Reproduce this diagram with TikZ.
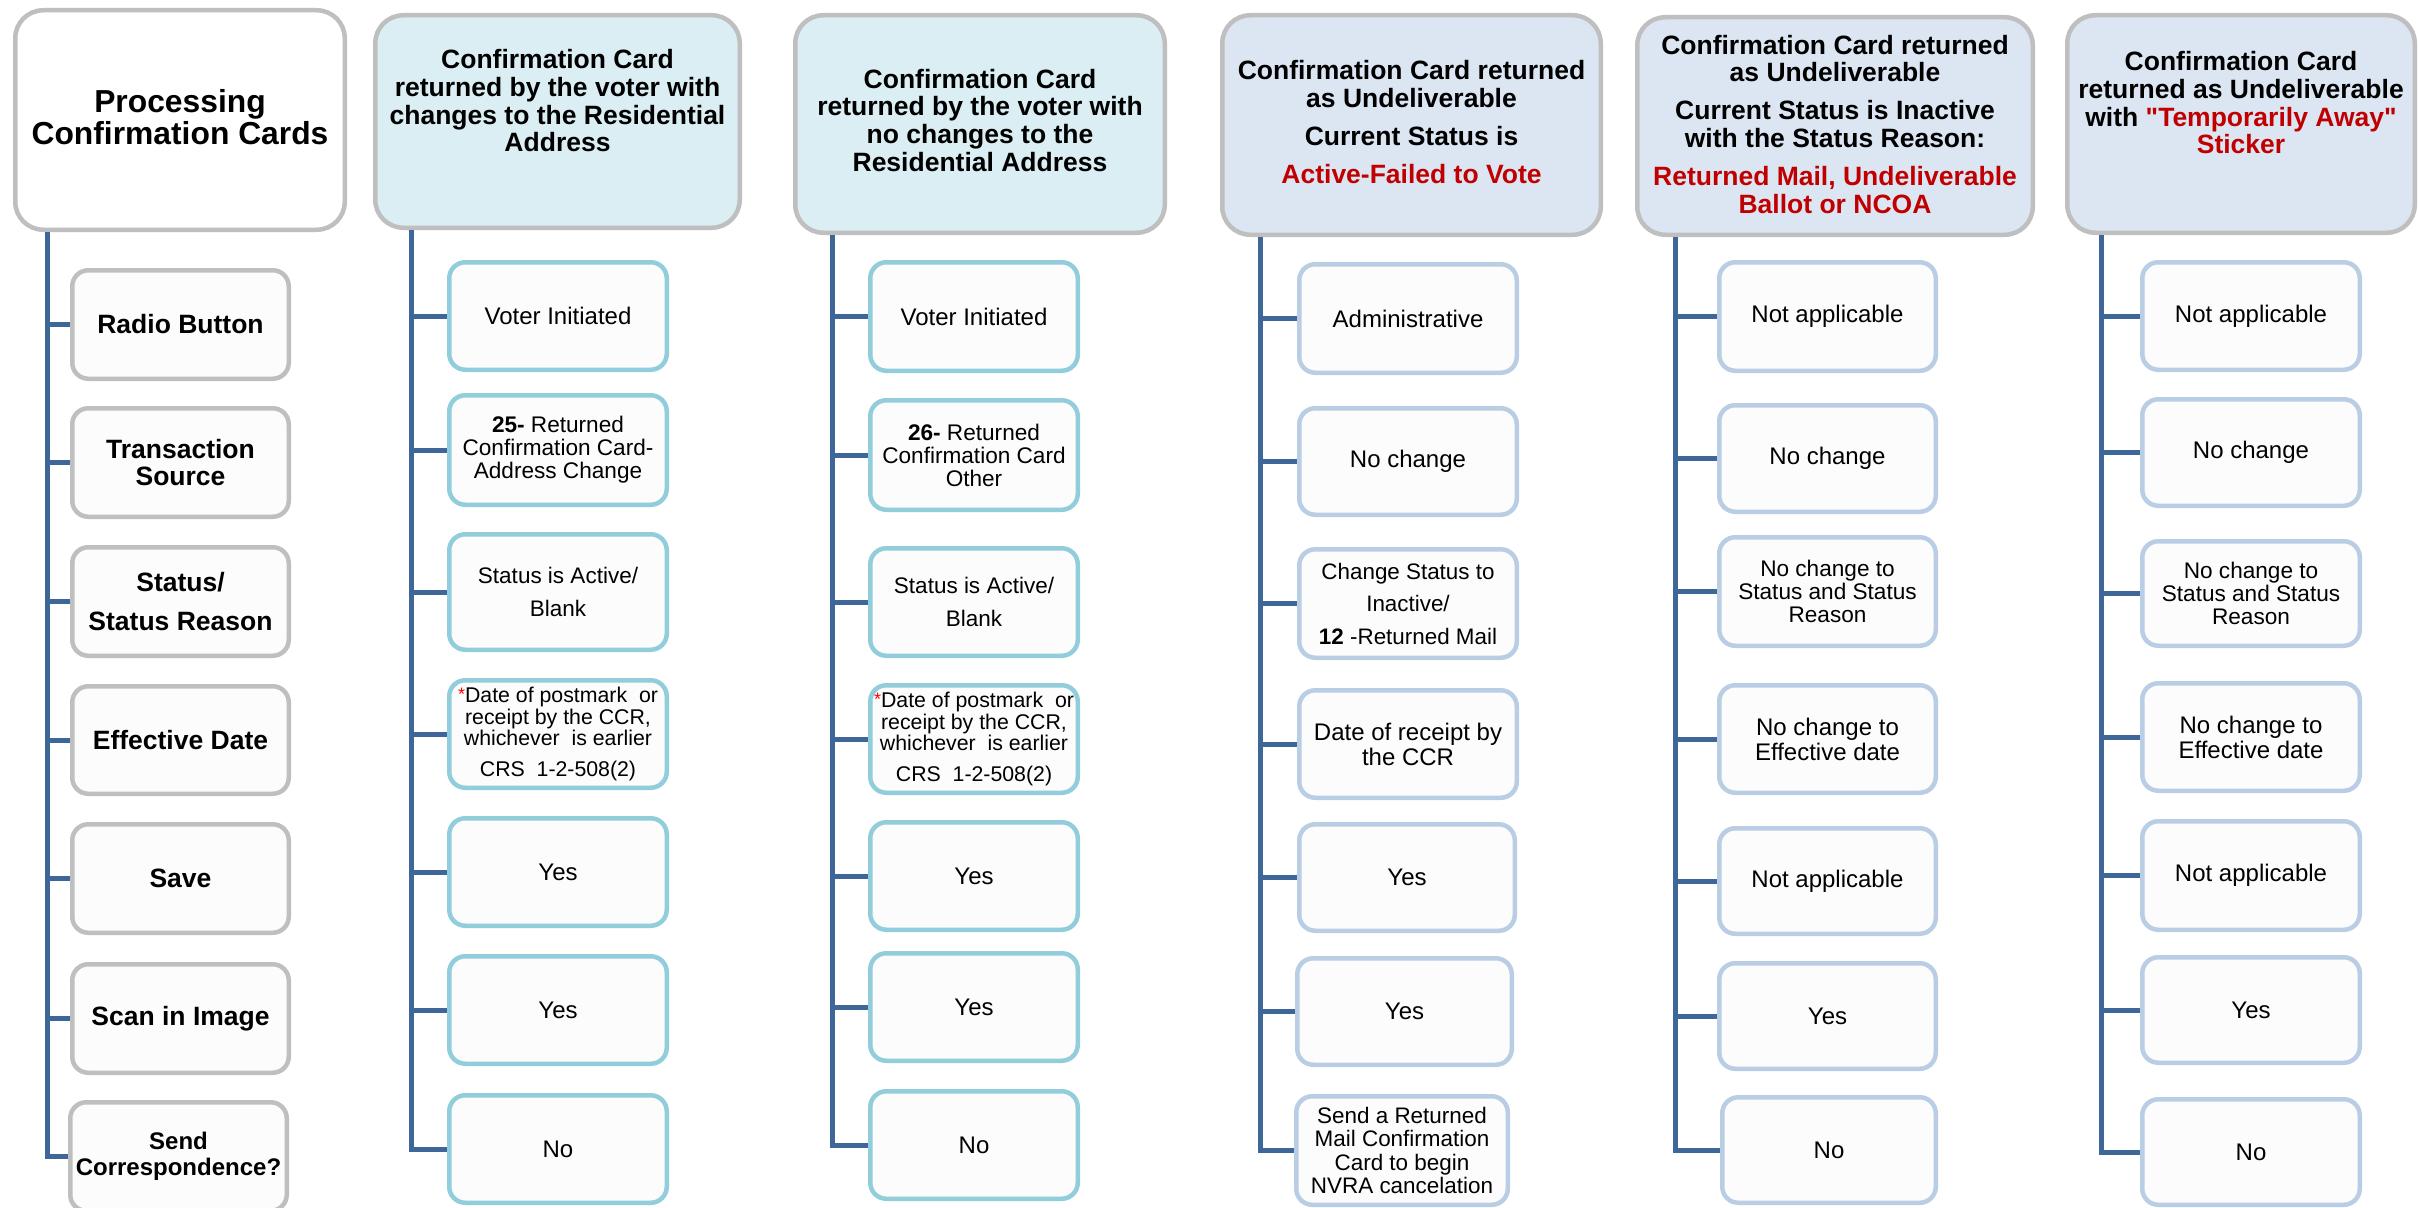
\documentclass[tikz,border=0pt]{standalone}
\usepackage{fontspec}
\setmainfont{Liberation Sans}
\newfontfamily\qfont{Liberation Sans}
\usetikzlibrary{calc}
\definecolor{bordgray}{HTML}{BFBFBF}
\definecolor{hfillA}{HTML}{DAEEF3}
\definecolor{hfillB}{HTML}{DCE6F2}
\definecolor{cbA}{HTML}{92CDDC}
\definecolor{cbB}{HTML}{B9CDE5}
\definecolor{childfill}{HTML}{FCFCFC}
\definecolor{linecol}{HTML}{3E6698}
\definecolor{redtxt}{HTML}{C00000}
\newcommand\cbox[7]{%
  \pgfmathsetmacro\bxx{(#3+#5)/2}\pgfmathsetmacro\bxy{(#4+#6)/2}%
  \pgfmathsetmacro\bxw{#5-#3-4.5}\pgfmathsetmacro\bxh{#6-#4-4.5}%
  \node[#2, minimum width=\bxw pt, minimum height=\bxh pt] (#1) at (\bxx,\bxy) {#7};}
\newcommand\hdrbox[9]{%
  \pgfmathsetmacro\hdx{(#3+#5)/2}\pgfmathsetmacro\hdy{(#4+#6)/2}%
  \pgfmathsetmacro\hdw{#5-#3-4.5}\pgfmathsetmacro\hdh{#6-#4-4.5}%
  \pgfmathsetmacro\hdd{#7-#4-2.25-0.8*#8}%
  \node[#2] (#1) at (\hdx,\hdy) {\parbox[t][\hdh pt][t]{\hdw pt}{\vspace*{\hdd pt}\centering\rule{0pt}{0.8em}#9}};}
\newcommand\dtext{\raisebox{2pt}{\fontsize{18}{18}\selectfont\color{red}*}Date of postmark~ or\\receipt by the CCR,\\whichever~ is earlier\\[9pt]CRS~ 1-2-508(2)}
\newcommand\sq{{\qfont\bfseries "}}
\tikzset{
  hdr/.style={draw=bordgray, line width=4.5pt, rounded corners=28pt, inner sep=0pt,
    font=\bfseries\fontsize{26.5}{27.6}\selectfont},
  hdrbig/.style={hdr, fill=white, font=\bfseries\fontsize{31.8}{32.3}\selectfont},
  chd/.style={fill=childfill, line width=4.5pt, rounded corners=16pt, align=center, inner sep=0pt,
    font=\fontsize{24}{25}\selectfont},
  chG/.style={chd, draw=bordgray, font=\bfseries\fontsize{26.5}{27.6}\selectfont},
  chA/.style={chd, draw=cbA},
  chB/.style={chd, draw=cbB},
  fsmall/.style={font=\fontsize{22.6}{23}\selectfont},
  fdate/.style={font=\fontsize{21.3}{21.7}\selectfont},
  fstat/.style={font=\fontsize{22.5}{33}\selectfont},
  conn/.style={draw=linecol, line width=5pt}
}
\begin{document}
\begin{tikzpicture}[x=1pt,y=-1pt]
\useasboundingbox[fill=white] (0,0) rectangle (2419,1207);
% connector spines
\coordinate (v1) at (47,232);
\coordinate (v2) at (411,230);
\coordinate (v3) at (832,235);
\coordinate (v4) at (1260,237);
\coordinate (v5) at (1675,237);
\coordinate (v6) at (2101,235);
% ---------- column 1
\hdrbox{h1}{hdrbig}{13}{8}{347}{232}{112.7}{31.8}{Processing\\Confirmation Cards}
\cbox{c1a}{chG}{70}{268}{291}{381}{Radio Button}
\cbox{c1b}{chG}{70}{406}{291}{519}{Transaction\\Source}
\cbox{c1c}{chG, font=\bfseries\fontsize{26.5}{39}\selectfont}{70}{545}{291}{658}{Status/\\Status Reason}
\cbox{c1d}{chG}{70}{684}{291}{796}{Effective Date}
\cbox{c1e}{chG}{70}{822}{291}{935}{Save}
\cbox{c1f}{chG}{70}{962}{291}{1075}{Scan in Image}
\cbox{c1g}{chG, font=\bfseries\fontsize{24}{25.6}\selectfont}{68}{1100}{289}{1213}{Send\\Correspondence?}
% ---------- column 2
\hdrbox{h2}{hdr, fill=hfillA}{373}{13}{742}{230}{69}{26.5}{Confirmation Card\\returned by the voter with\\changes to the Residential\\Address}
\cbox{c2a}{chA}{447}{260}{669}{372}{Voter Initiated}
\cbox{c2b}{chA, fsmall}{447}{393}{669}{507}{\textbf{25-} Returned\\Confirmation Card-\\Address Change}
\cbox{c2c}{chA, fstat}{447}{532}{669}{652}{Status is Active/\\Blank}
\cbox{c2d}{chA, fdate}{447}{678}{669}{790}{\dtext}
\cbox{c2e}{chA}{447}{816}{669}{928}{Yes}
\cbox{c2f}{chA}{447}{954}{669}{1066}{Yes}
\cbox{c2g}{chA}{447}{1093}{669}{1205}{No}
% ---------- column 3
\hdrbox{h3}{hdr, fill=hfillA}{793}{13}{1167}{235}{88.3}{26.5}{Confirmation Card\\returned by the voter with\\no changes to the\\Residential Address}
\cbox{c3a}{chA}{868}{260}{1080}{373}{Voter Initiated}
\cbox{c3b}{chA, fsmall}{868}{398}{1080}{512}{\textbf{26-} Returned\\Confirmation Card\\Other}
\cbox{c3c}{chA, fstat}{868}{546}{1080}{658}{Status is Active/\\Blank}
\cbox{c3d}{chA, fdate}{868}{683}{1080}{795}{\dtext}
\cbox{c3e}{chA}{868}{820}{1080}{932}{Yes}
\cbox{c3f}{chA}{868}{951}{1080}{1063}{Yes}
\cbox{c3g}{chA}{868}{1089}{1080}{1201}{No}
% ---------- column 4
\hdrbox{h4}{hdr, fill=hfillB}{1220}{13}{1603}{237}{80}{26.5}{Confirmation Card returned\\as Undeliverable\\[10.5pt]Current Status is\\[10.5pt]{\color{redtxt}Active-Failed to Vote}}
\cbox{c4a}{chB}{1297}{262}{1519}{375}{Administrative}
\cbox{c4b}{chB}{1297}{406}{1519}{517}{No change}
\cbox{c4c}{chB, font=\fontsize{22.4}{32.5}\selectfont}{1297}{547}{1519}{660}{Change Status to\\Inactive/\\\textbf{12} -Returned Mail}
\cbox{c4d}{chB}{1297}{688}{1519}{800}{Date of receipt by\\the CCR}
\cbox{c4e}{chB}{1297}{822}{1517}{933}{Yes}
\cbox{c4f}{chB}{1295}{956}{1514}{1067}{Yes}
\cbox{c4g}{chB, font=\fontsize{22.45}{23.3}\selectfont}{1294}{1094}{1510}{1207}{Send a Returned\\Mail Confirmation\\Card to begin\\NVRA cancelation}
% ---------- column 5
\hdrbox{h5}{hdr, fill=hfillB}{1635}{15}{2035}{237}{54.3}{26.5}{Confirmation Card returned\\as Undeliverable\\[10.5pt]Current Status is Inactive\\with the Status Reason:\\[10.5pt]{\color{redtxt}Returned Mail, Undeliverable\\Ballot or NCOA}}
\cbox{c5a}{chB}{1717}{260}{1938}{373}{Not applicable}
\cbox{c5b}{chB}{1717}{403}{1938}{514}{No change}
\cbox{c5c}{chB, fsmall}{1717}{535}{1938}{648}{No change to\\Status and Status\\Reason}
\cbox{c5d}{chB}{1717}{683}{1938}{795}{No change to\\Effective date}
\cbox{c5e}{chB}{1717}{826}{1938}{936}{Not applicable}
\cbox{c5f}{chB}{1717}{961}{1938}{1071}{Yes}
\cbox{c5g}{chB}{1720}{1095}{1938}{1205}{No}
% ---------- column 6
\hdrbox{h6}{hdr, fill=hfillB}{2065}{13}{2417}{235}{71}{26.5}{Confirmation Card\\returned as Undeliverable\\with {\color{redtxt}\sq Temporarily Away\sq}\\{\color{redtxt}Sticker}}
\cbox{c6a}{chB}{2140}{260}{2362}{372}{Not applicable}
\cbox{c6b}{chB}{2140}{397}{2362}{508}{No change}
\cbox{c6c}{chB, fsmall}{2140}{539}{2362}{648}{No change to\\Status and Status\\Reason}
\cbox{c6d}{chB}{2140}{681}{2362}{793}{No change to\\Effective date}
\cbox{c6e}{chB}{2140}{819}{2362}{932}{Not applicable}
\cbox{c6f}{chB}{2140}{955}{2362}{1065}{Yes}
\cbox{c6g}{chB}{2140}{1097}{2362}{1207}{No}
% ---------- connectors
\foreach \k in {1,...,6}{
  \draw[conn] (v\k) |- (c\k g.west);
  \foreach \r in {a,b,c,d,e,f}{
    \draw[conn] (c\k\r.west -| v\k) -- (c\k\r.west);
  }
}
\end{tikzpicture}
\end{document}
